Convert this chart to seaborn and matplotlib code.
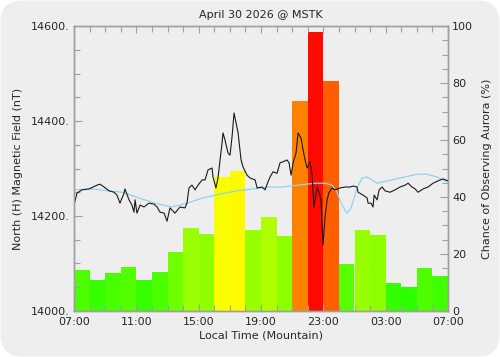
import numpy as np
import pandas as pd
import matplotlib
matplotlib.use("Agg")
import matplotlib.pyplot as plt
import seaborn as sns
from matplotlib.colors import LinearSegmentedColormap, Normalize
from matplotlib.patches import FancyBboxPatch
from matplotlib.transforms import IdentityTransform
from matplotlib.ticker import MultipleLocator

# ---------------- data ----------------
title = "April 30 2026 @ MSTK"
tick_labels = ["07:00", "11:00", "15:00", "19:00", "23:00", "03:00", "07:00"]
hour_labels = ["07", "08", "09", "10", "11", "12", "13", "14", "15", "16", "17", "18",
               "19", "20", "21", "22", "23", "00", "01", "02", "03", "04", "05", "06"]
aurora_pct = [14.4, 10.9, 13.4, 15.3, 10.8, 13.8, 20.8, 29.0, 27.0, 46.9, 49.1, 28.4,
              33.0, 26.3, 73.8, 97.8, 80.7, 16.5, 28.4, 26.7, 9.9, 8.5, 15.2, 12.3]

field_hours = [0.00, 0.19, 0.51, 0.96, 1.48, 1.67, 1.93, 2.25, 2.57, 2.76, 2.95, 3.21,
               3.27, 3.53, 3.72, 3.85, 3.92, 4.04, 4.24, 4.49, 4.81, 5.13, 5.33, 5.52,
               5.78, 5.97, 6.16, 6.48, 6.80, 7.12, 7.25, 7.38, 7.57, 7.77, 7.96, 8.22,
               8.41, 8.60, 8.86, 8.92, 9.11, 9.24, 9.50, 9.56, 9.69, 9.88, 10.01, 10.14,
               10.27, 10.40, 10.53, 10.72, 10.85, 11.10, 11.30, 11.62, 11.75, 12.07, 12.26,
               12.45, 12.58, 12.77, 13.03, 13.22, 13.41, 13.67, 13.80, 13.93, 14.06, 14.25,
               14.38, 14.57, 14.70, 14.83, 14.96, 15.15, 15.28, 15.40, 15.60, 15.73, 15.85,
               15.98, 16.11, 16.24, 16.37, 16.56, 16.75, 17.07, 17.39, 17.72, 17.91, 18.16,
               18.23, 18.55, 18.81, 18.87, 19.06, 19.19, 19.26, 19.45, 19.58, 19.77, 19.96,
               20.28, 20.60, 20.92, 21.25, 21.44, 21.69, 21.89, 22.08, 22.40, 22.72, 23.04,
               23.36, 23.68, 24.00]
field_nt = [14223, 14248, 14255, 14257, 14265, 14267, 14261, 14253, 14250, 14244, 14227, 14248,
            14257, 14234, 14223, 14208, 14234, 14206, 14223, 14219, 14227, 14225, 14219, 14208,
            14206, 14189, 14217, 14206, 14219, 14217, 14227, 14259, 14265, 14255, 14265, 14276,
            14276, 14297, 14301, 14282, 14259, 14280, 14354, 14375, 14360, 14333, 14328, 14366,
            14417, 14396, 14375, 14318, 14303, 14286, 14280, 14276, 14259, 14261, 14255,
            14272, 14282, 14293, 14290, 14312, 14314, 14318, 14312, 14286, 14312, 14333,
            14375, 14364, 14339, 14318, 14301, 14314, 14286, 14219, 14261, 14250, 14234,
            14139, 14198, 14234, 14250, 14259, 14255, 14259, 14261, 14261, 14263, 14261,
            14250, 14244, 14238, 14227, 14227, 14219, 14244, 14234, 14255, 14261, 14253,
            14250, 14255, 14261, 14265, 14269, 14261, 14257, 14250, 14257, 14261, 14269,
            14274, 14278, 14274]

quiet_hours = [0.00, 1.16, 3.08, 4.17, 5.20, 6.29, 7.25, 8.28, 9.37, 10.46, 11.49, 12.58,
               13.35, 14.38, 15.47, 16.11, 16.56, 16.88, 17.20, 17.52, 17.78, 18.04, 18.16,
               18.49, 18.81, 19.00, 19.45, 19.83, 20.92, 22.02, 22.66, 23.30, 23.94]
quiet_nt = [14255, 14257, 14250, 14238, 14227, 14219, 14227, 14238, 14246, 14253, 14257, 14261,
            14261, 14265, 14269, 14269, 14265, 14250, 14223, 14206, 14217, 14244, 14259,
            14280, 14282, 14278, 14269, 14272, 14280, 14288, 14288, 14282, 14272]

# ---------------- styling ----------------
BG = "#eeeeee"
SPINE = "#a0a0a0"
sns.set_theme(style="white")
plt.rcParams["font.family"] = ["DejaVu Sans"]
plt.rcParams["font.size"] = 8

fig = plt.figure(figsize=(5.0, 3.57), dpi=100, facecolor="white")
fig.patches.append(FancyBboxPatch((0.5, 0.5), 499, 356, boxstyle="round,pad=0,rounding_size=22",
                                  transform=IdentityTransform(), facecolor=BG,
                                  edgecolor="none", zorder=-10))

ax = fig.add_axes([0.148, 0.129, 0.748, 0.798])
ax2 = ax.twinx()

# bars on the right (percent) axis
cmap = LinearSegmentedColormap.from_list("aur", [(0.0, (0.0, 1.0, 0.0)),
                                                 (0.48, (1.0, 1.0, 0.0)),
                                                 (1.0, (1.0, 0.0, 0.0))])
norm = Normalize(0, 100)
bar_df = pd.DataFrame({"hour": np.arange(len(aurora_pct)) + 0.5,
                       "pct": aurora_pct, "lab": hour_labels})
palette = {lab: cmap(norm(v)) for lab, v in zip(hour_labels, aurora_pct)}
sns.barplot(data=bar_df, x="hour", y="pct", hue="lab", palette=palette, legend=False,
            native_scale=True, width=1.0, dodge=False, saturation=1, linewidth=0, ax=ax2)

# lines on the left (nT) axis
sns.lineplot(x=quiet_hours, y=quiet_nt, color="#8fd3ee", linewidth=0.9, ax=ax)
sns.lineplot(x=field_hours, y=field_nt, color="#1a1a1a", linewidth=0.8, ax=ax)

ax.set_zorder(ax2.get_zorder() + 1)
ax.patch.set_visible(False)
ax2.set_facecolor(BG)

ax.set_xlim(0, 24)
ax.set_ylim(14000, 14600)
ax2.set_ylim(0, 100)
ax2.set_xlim(0, 24)

ax.set_xticks(np.arange(0, 25, 4))
ax.set_xticklabels(tick_labels)
ax.xaxis.set_minor_locator(MultipleLocator(1))
ax.set_yticks([14000, 14200, 14400, 14600])
ax.set_yticklabels(["14000.", "14200.", "14400.", "14600."])
ax.yaxis.set_minor_locator(MultipleLocator(50))
ax2.set_yticks([0, 20, 40, 60, 80, 100])
ax2.set_yticklabels(["0", "20", "40", "60", "80", "100"])
ax2.yaxis.set_minor_locator(MultipleLocator(5))
ax2.set_xlabel("")
ax2.set_ylabel("")
ax2.tick_params(axis="x", which="both", bottom=False, top=False, labelbottom=False)

ax.tick_params(axis="x", which="both", direction="in", top=True, bottom=True,
               color=SPINE, labelsize=8, pad=4)
ax.tick_params(axis="x", which="major", length=5, width=0.8)
ax.tick_params(axis="x", which="minor", length=4, width=0.8)
ax.tick_params(axis="y", which="both", direction="in", left=True, right=False,
               color=SPINE, labelsize=8, pad=3)
ax.tick_params(axis="y", which="major", length=6, width=0.8)
ax.tick_params(axis="y", which="minor", length=4, width=0.8)
ax2.tick_params(axis="y", which="both", direction="in", right=True, left=False,
                color=SPINE, labelsize=8, pad=3)
ax2.tick_params(axis="y", which="major", length=6, width=0.8)
ax2.tick_params(axis="y", which="minor", length=4, width=0.8)

for a in (ax, ax2):
    for s in a.spines.values():
        s.set_color(SPINE)
        s.set_linewidth(1.0)

ax.set_title(title, fontsize=8, pad=6)
ax.set_xlabel("Local Time (Mountain)", fontsize=8, labelpad=3)
ax.set_ylabel("North (H) Magnetic Field (nT)", fontsize=8, labelpad=6)
ax2.set_ylabel("Chance of Observing Aurora (%)", fontsize=8, labelpad=6)

fig.savefig("out.png", dpi=100, facecolor="white")
